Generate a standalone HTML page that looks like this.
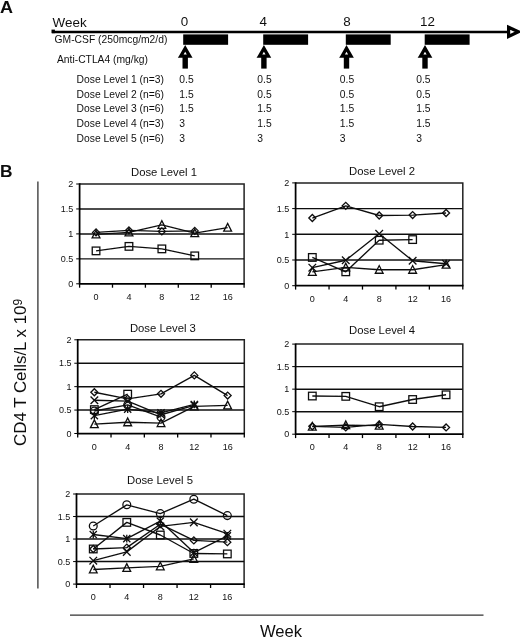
<!DOCTYPE html>
<html><head><meta charset="utf-8"><title>Figure</title>
<style>
html,body{margin:0;padding:0;background:#fff;}
body{width:520px;height:638px;overflow:hidden;font-family:"Liberation Sans", sans-serif;}
svg{display:block;font-family:"Liberation Sans", sans-serif;}
svg text{font-family:"Liberation Sans", sans-serif;fill:#111;}
</style></head><body>
<svg width="520" height="638" viewBox="0 0 520 638" style="will-change:transform">
<rect width="520" height="638" fill="#fff"/>
<defs><filter id="sb" x="0" y="0" width="520" height="638" filterUnits="userSpaceOnUse"><feGaussianBlur stdDeviation="0.35"/></filter></defs>
<g id="panelA" filter="url(#sb)">
<text transform="translate(0 13.2) scale(1.1 1)" font-size="16.4" font-weight="bold" fill="#000">A</text>
<text x="52.6" y="26.6" font-size="13.4">Week</text>
<text x="184.6" y="25.9" font-size="13.4" text-anchor="middle">0</text>
<text x="263.3" y="25.9" font-size="13.4" text-anchor="middle">4</text>
<text x="347.1" y="25.9" font-size="13.4" text-anchor="middle">8</text>
<text x="427.5" y="25.9" font-size="13.4" text-anchor="middle">12</text>
<path d="M52 32H509" stroke="#000" stroke-width="2.6"/>
<rect x="51.5" y="29.6" width="3.4" height="3.6" fill="#000"/>
<path d="M508.6 27.2L518.4 31.8L508.6 36.4Z" fill="#fff" stroke="#000" stroke-width="3.2" stroke-linejoin="miter"/>
<rect x="183.2" y="34.4" width="44.9" height="10.4" fill="#000"/>
<path d="M180.70 56.2L185.20 48.4L189.70 56.2Z" fill="#fff" stroke="#000" stroke-width="3.3" stroke-linejoin="miter"/>
<rect x="182.50" y="57" width="5.4" height="11.6" fill="#000"/>
<rect x="263.2" y="34.4" width="44.9" height="10.4" fill="#000"/>
<path d="M259.40 56.2L263.90 48.4L268.40 56.2Z" fill="#fff" stroke="#000" stroke-width="3.3" stroke-linejoin="miter"/>
<rect x="261.20" y="57" width="5.4" height="11.6" fill="#000"/>
<rect x="345.8" y="34.4" width="44.9" height="10.4" fill="#000"/>
<path d="M342.00 56.2L346.50 48.4L351.00 56.2Z" fill="#fff" stroke="#000" stroke-width="3.3" stroke-linejoin="miter"/>
<rect x="343.80" y="57" width="5.4" height="11.6" fill="#000"/>
<rect x="424.7" y="34.4" width="44.9" height="10.4" fill="#000"/>
<path d="M420.50 56.2L425.00 48.4L429.50 56.2Z" fill="#fff" stroke="#000" stroke-width="3.3" stroke-linejoin="miter"/>
<rect x="422.30" y="57" width="5.4" height="11.6" fill="#000"/>
<text x="54.6" y="43.4" font-size="10.3">GM-CSF (250mcg/m2/d)</text>
<text x="57" y="63.2" font-size="10.3">Anti-CTLA4 (mg/kg)</text>
<text x="76.6" y="83.00" font-size="10.3">Dose Level 1 (n=3)</text>
<text x="179.3" y="83.00" font-size="10.3">0.5</text>
<text x="257.3" y="83.00" font-size="10.3">0.5</text>
<text x="339.8" y="83.00" font-size="10.3">0.5</text>
<text x="416.2" y="83.00" font-size="10.3">0.5</text>
<text x="76.6" y="97.65" font-size="10.3">Dose Level 2 (n=6)</text>
<text x="179.3" y="97.65" font-size="10.3">1.5</text>
<text x="257.3" y="97.65" font-size="10.3">0.5</text>
<text x="339.8" y="97.65" font-size="10.3">0.5</text>
<text x="416.2" y="97.65" font-size="10.3">0.5</text>
<text x="76.6" y="112.30" font-size="10.3">Dose Level 3 (n=6)</text>
<text x="179.3" y="112.30" font-size="10.3">1.5</text>
<text x="257.3" y="112.30" font-size="10.3">1.5</text>
<text x="339.8" y="112.30" font-size="10.3">1.5</text>
<text x="416.2" y="112.30" font-size="10.3">1.5</text>
<text x="76.6" y="126.95" font-size="10.3">Dose Level 4 (n=3)</text>
<text x="179.3" y="126.95" font-size="10.3">3</text>
<text x="257.3" y="126.95" font-size="10.3">1.5</text>
<text x="339.8" y="126.95" font-size="10.3">1.5</text>
<text x="416.2" y="126.95" font-size="10.3">1.5</text>
<text x="76.6" y="141.60" font-size="10.3">Dose Level 5 (n=6)</text>
<text x="179.3" y="141.60" font-size="10.3">3</text>
<text x="257.3" y="141.60" font-size="10.3">3</text>
<text x="339.8" y="141.60" font-size="10.3">3</text>
<text x="416.2" y="141.60" font-size="10.3">3</text>
</g>
<g id="panelB" filter="url(#sb)">
<text transform="translate(0 177) scale(1.06 1)" font-size="16.4" font-weight="bold" fill="#000">B</text>
<path d="M37.9 181.5V588.5" stroke="#333" stroke-width="1.3"/>
<path d="M70 615.2H483.5" stroke="#333" stroke-width="1.3"/>
<text transform="translate(25.5 446) rotate(-90)" font-size="16.9">CD4 T Cells/L x 10<tspan font-size="12" dy="-3.9">9</tspan></text>
<text x="281" y="637.3" font-size="16.6" text-anchor="middle">Week</text>
<path d="M79.6 184.0H244.1V283.8" fill="none" stroke="#222" stroke-width="1.5"/>
<path d="M79.6 258.85H244.1" stroke="#111" stroke-width="1.45"/>
<path d="M79.6 233.90H244.1" stroke="#111" stroke-width="1.45"/>
<path d="M79.6 208.95H244.1" stroke="#111" stroke-width="1.45"/>
<path d="M79.6 183.3V283.8M78.8 283.8H244.79999999999998" fill="none" stroke="#000" stroke-width="1.75"/>
<path d="M76.19999999999999 283.80H79.6" stroke="#000" stroke-width="1.0"/>
<text x="73.30" y="287.05" text-anchor="end" font-size="9">0</text>
<path d="M76.19999999999999 258.85H79.6" stroke="#000" stroke-width="1.0"/>
<text x="73.30" y="262.10" text-anchor="end" font-size="9">0.5</text>
<path d="M76.19999999999999 233.90H79.6" stroke="#000" stroke-width="1.0"/>
<text x="73.30" y="237.15" text-anchor="end" font-size="9">1</text>
<path d="M76.19999999999999 208.95H79.6" stroke="#000" stroke-width="1.0"/>
<text x="73.30" y="212.20" text-anchor="end" font-size="9">1.5</text>
<path d="M76.19999999999999 184.00H79.6" stroke="#000" stroke-width="1.0"/>
<text x="73.30" y="187.25" text-anchor="end" font-size="9">2</text>
<path d="M79.60 283.8V287.7" stroke="#000" stroke-width="1.3"/>
<path d="M112.50 283.8V287.7" stroke="#000" stroke-width="1.3"/>
<path d="M145.40 283.8V287.7" stroke="#000" stroke-width="1.3"/>
<path d="M178.30 283.8V287.7" stroke="#000" stroke-width="1.3"/>
<path d="M211.20 283.8V287.7" stroke="#000" stroke-width="1.3"/>
<path d="M244.10 283.8V287.7" stroke="#000" stroke-width="1.3"/>
<text x="96.05" y="299.80" text-anchor="middle" font-size="9">0</text>
<text x="128.95" y="299.80" text-anchor="middle" font-size="9">4</text>
<text x="161.85" y="299.80" text-anchor="middle" font-size="9">8</text>
<text x="194.75" y="299.80" text-anchor="middle" font-size="9">12</text>
<text x="227.65" y="299.80" text-anchor="middle" font-size="9">16</text>
<text x="164.00" y="175.60" text-anchor="middle" font-size="11.3">Dose Level 1</text>
<path d="M96.05 234.40L128.95 232.40L161.85 224.92L194.75 233.15L227.65 227.66" fill="none" stroke="#111" stroke-width="1.35" stroke-linejoin="round"/>
<path d="M92.15 237.90L96.05 230.20L99.95 237.90Z" fill="none" stroke="#111" stroke-width="1.3" stroke-linejoin="miter"/>
<path d="M125.05 235.90L128.95 228.20L132.85 235.90Z" fill="none" stroke="#111" stroke-width="1.3" stroke-linejoin="miter"/>
<path d="M157.95 228.42L161.85 220.72L165.75 228.42Z" fill="none" stroke="#111" stroke-width="1.3" stroke-linejoin="miter"/>
<path d="M190.85 236.65L194.75 228.95L198.65 236.65Z" fill="none" stroke="#111" stroke-width="1.3" stroke-linejoin="miter"/>
<path d="M223.75 231.16L227.65 223.46L231.55 231.16Z" fill="none" stroke="#111" stroke-width="1.3" stroke-linejoin="miter"/>
<path d="M96.05 232.40L128.95 230.41L161.85 231.41L194.75 230.91" fill="none" stroke="#111" stroke-width="1.35" stroke-linejoin="round"/>
<path d="M92.55 232.4L96.05 228.90L99.55 232.4L96.05 235.90Z" fill="none" stroke="#111" stroke-width="1.3"/>
<path d="M125.45 230.41L128.95 226.91L132.45 230.41L128.95 233.91Z" fill="none" stroke="#111" stroke-width="1.3"/>
<path d="M158.35 231.41L161.85 227.91L165.35 231.41L161.85 234.91Z" fill="none" stroke="#111" stroke-width="1.3"/>
<path d="M191.25 230.91L194.75 227.41L198.25 230.91L194.75 234.41Z" fill="none" stroke="#111" stroke-width="1.3"/>
<path d="M96.05 250.87L128.95 246.38L161.85 248.87L194.75 255.86" fill="none" stroke="#111" stroke-width="1.35" stroke-linejoin="round"/>
<rect x="92.25" y="247.07" width="7.60" height="7.60" fill="none" stroke="#111" stroke-width="1.3"/>
<rect x="125.15" y="242.58" width="7.60" height="7.60" fill="none" stroke="#111" stroke-width="1.3"/>
<rect x="158.05" y="245.07" width="7.60" height="7.60" fill="none" stroke="#111" stroke-width="1.3"/>
<rect x="190.95" y="252.06" width="7.60" height="7.60" fill="none" stroke="#111" stroke-width="1.3"/>
<path d="M295.6 182.9H462.8V285.7" fill="none" stroke="#222" stroke-width="1.5"/>
<path d="M295.6 260.00H462.8" stroke="#111" stroke-width="1.45"/>
<path d="M295.6 234.30H462.8" stroke="#111" stroke-width="1.45"/>
<path d="M295.6 208.60H462.8" stroke="#111" stroke-width="1.45"/>
<path d="M295.6 182.20000000000002V285.7M294.8 285.7H463.5" fill="none" stroke="#000" stroke-width="1.75"/>
<path d="M292.20000000000005 285.70H295.6" stroke="#000" stroke-width="1.0"/>
<text x="289.30" y="288.95" text-anchor="end" font-size="9">0</text>
<path d="M292.20000000000005 260.00H295.6" stroke="#000" stroke-width="1.0"/>
<text x="289.30" y="263.25" text-anchor="end" font-size="9">0.5</text>
<path d="M292.20000000000005 234.30H295.6" stroke="#000" stroke-width="1.0"/>
<text x="289.30" y="237.55" text-anchor="end" font-size="9">1</text>
<path d="M292.20000000000005 208.60H295.6" stroke="#000" stroke-width="1.0"/>
<text x="289.30" y="211.85" text-anchor="end" font-size="9">1.5</text>
<path d="M292.20000000000005 182.90H295.6" stroke="#000" stroke-width="1.0"/>
<text x="289.30" y="186.15" text-anchor="end" font-size="9">2</text>
<path d="M295.60 285.7V289.59999999999997" stroke="#000" stroke-width="1.3"/>
<path d="M329.04 285.7V289.59999999999997" stroke="#000" stroke-width="1.3"/>
<path d="M362.48 285.7V289.59999999999997" stroke="#000" stroke-width="1.3"/>
<path d="M395.92 285.7V289.59999999999997" stroke="#000" stroke-width="1.3"/>
<path d="M429.36 285.7V289.59999999999997" stroke="#000" stroke-width="1.3"/>
<path d="M462.80 285.7V289.59999999999997" stroke="#000" stroke-width="1.3"/>
<text x="312.32" y="301.70" text-anchor="middle" font-size="9">0</text>
<text x="345.76" y="301.70" text-anchor="middle" font-size="9">4</text>
<text x="379.20" y="301.70" text-anchor="middle" font-size="9">8</text>
<text x="412.64" y="301.70" text-anchor="middle" font-size="9">12</text>
<text x="446.08" y="301.70" text-anchor="middle" font-size="9">16</text>
<text x="382.10" y="174.90" text-anchor="middle" font-size="11.3">Dose Level 2</text>
<path d="M312.32 218.01L345.76 205.82L379.20 215.49L412.64 215.08L446.08 212.97" fill="none" stroke="#111" stroke-width="1.35" stroke-linejoin="round"/>
<path d="M308.82 218.01L312.32 214.51L315.82 218.01L312.32 221.51Z" fill="none" stroke="#111" stroke-width="1.3"/>
<path d="M342.26 205.82L345.76 202.32L349.26 205.82L345.76 209.32Z" fill="none" stroke="#111" stroke-width="1.3"/>
<path d="M375.70 215.49L379.2 211.99L382.70 215.49L379.2 218.99Z" fill="none" stroke="#111" stroke-width="1.3"/>
<path d="M409.14 215.08L412.64 211.58L416.14 215.08L412.64 218.58Z" fill="none" stroke="#111" stroke-width="1.3"/>
<path d="M442.58 212.97L446.08 209.47L449.58 212.97L446.08 216.47Z" fill="none" stroke="#111" stroke-width="1.3"/>
<path d="M312.32 257.43L345.76 271.82L379.20 240.21L412.64 239.59" fill="none" stroke="#111" stroke-width="1.35" stroke-linejoin="round"/>
<rect x="308.52" y="253.63" width="7.60" height="7.60" fill="none" stroke="#111" stroke-width="1.3"/>
<rect x="341.96" y="268.02" width="7.60" height="7.60" fill="none" stroke="#111" stroke-width="1.3"/>
<rect x="375.40" y="236.41" width="7.60" height="7.60" fill="none" stroke="#111" stroke-width="1.3"/>
<rect x="408.84" y="235.79" width="7.60" height="7.60" fill="none" stroke="#111" stroke-width="1.3"/>
<path d="M312.32 267.71L345.76 260.26L379.20 233.79L412.64 260.77L446.08 263.75" fill="none" stroke="#111" stroke-width="1.35" stroke-linejoin="round"/>
<path d="M308.52 263.91L316.12 271.51M308.52 271.51L316.12 263.91" fill="none" stroke="#111" stroke-width="1.3"/>
<path d="M341.96 256.46L349.56 264.06M341.96 264.06L349.56 256.46" fill="none" stroke="#111" stroke-width="1.3"/>
<path d="M375.40 229.99L383.00 237.59M375.40 237.59L383.00 229.99" fill="none" stroke="#111" stroke-width="1.3"/>
<path d="M408.84 256.97L416.44 264.57M408.84 264.57L416.44 256.97" fill="none" stroke="#111" stroke-width="1.3"/>
<path d="M442.28 259.95L449.88 267.55M442.28 267.55L449.88 259.95" fill="none" stroke="#111" stroke-width="1.3"/>
<path d="M312.32 271.82L345.76 267.45L379.20 269.77L412.64 269.77L446.08 264.63" fill="none" stroke="#111" stroke-width="1.35" stroke-linejoin="round"/>
<path d="M308.42 275.32L312.32 267.62L316.22 275.32Z" fill="none" stroke="#111" stroke-width="1.3" stroke-linejoin="miter"/>
<path d="M341.86 270.95L345.76 263.25L349.66 270.95Z" fill="none" stroke="#111" stroke-width="1.3" stroke-linejoin="miter"/>
<path d="M375.30 273.27L379.2 265.57L383.10 273.27Z" fill="none" stroke="#111" stroke-width="1.3" stroke-linejoin="miter"/>
<path d="M408.74 273.27L412.64 265.57L416.54 273.27Z" fill="none" stroke="#111" stroke-width="1.3" stroke-linejoin="miter"/>
<path d="M442.18 268.13L446.08 260.43L449.98 268.13Z" fill="none" stroke="#111" stroke-width="1.3" stroke-linejoin="miter"/>
<path d="M77.7 339.8H244.3V433.5" fill="none" stroke="#222" stroke-width="1.5"/>
<path d="M77.7 410.07H244.3" stroke="#111" stroke-width="1.45"/>
<path d="M77.7 386.65H244.3" stroke="#111" stroke-width="1.45"/>
<path d="M77.7 363.23H244.3" stroke="#111" stroke-width="1.45"/>
<path d="M77.7 339.1V433.5M76.9 433.5H245.0" fill="none" stroke="#000" stroke-width="1.75"/>
<path d="M74.3 433.50H77.7" stroke="#000" stroke-width="1.0"/>
<text x="71.40" y="436.75" text-anchor="end" font-size="9">0</text>
<path d="M74.3 410.07H77.7" stroke="#000" stroke-width="1.0"/>
<text x="71.40" y="413.32" text-anchor="end" font-size="9">0.5</text>
<path d="M74.3 386.65H77.7" stroke="#000" stroke-width="1.0"/>
<text x="71.40" y="389.90" text-anchor="end" font-size="9">1</text>
<path d="M74.3 363.23H77.7" stroke="#000" stroke-width="1.0"/>
<text x="71.40" y="366.48" text-anchor="end" font-size="9">1.5</text>
<path d="M74.3 339.80H77.7" stroke="#000" stroke-width="1.0"/>
<text x="71.40" y="343.05" text-anchor="end" font-size="9">2</text>
<path d="M77.70 433.5V437.4" stroke="#000" stroke-width="1.3"/>
<path d="M111.02 433.5V437.4" stroke="#000" stroke-width="1.3"/>
<path d="M144.34 433.5V437.4" stroke="#000" stroke-width="1.3"/>
<path d="M177.66 433.5V437.4" stroke="#000" stroke-width="1.3"/>
<path d="M210.98 433.5V437.4" stroke="#000" stroke-width="1.3"/>
<path d="M244.30 433.5V437.4" stroke="#000" stroke-width="1.3"/>
<text x="94.36" y="449.50" text-anchor="middle" font-size="9">0</text>
<text x="127.68" y="449.50" text-anchor="middle" font-size="9">4</text>
<text x="161.00" y="449.50" text-anchor="middle" font-size="9">8</text>
<text x="194.32" y="449.50" text-anchor="middle" font-size="9">12</text>
<text x="227.64" y="449.50" text-anchor="middle" font-size="9">16</text>
<text x="162.90" y="332.00" text-anchor="middle" font-size="11.3">Dose Level 3</text>
<path d="M94.36 392.27L127.68 398.83L161.00 393.82L194.32 375.41L227.64 395.55" fill="none" stroke="#111" stroke-width="1.35" stroke-linejoin="round"/>
<path d="M90.86 392.27L94.36 388.77L97.86 392.27L94.36 395.77Z" fill="none" stroke="#111" stroke-width="1.3"/>
<path d="M124.18 398.83L127.68 395.33L131.18 398.83L127.68 402.33Z" fill="none" stroke="#111" stroke-width="1.3"/>
<path d="M157.50 393.82L161.0 390.32L164.50 393.82L161.0 397.32Z" fill="none" stroke="#111" stroke-width="1.3"/>
<path d="M190.82 375.41L194.32 371.91L197.82 375.41L194.32 378.91Z" fill="none" stroke="#111" stroke-width="1.3"/>
<path d="M224.14 395.55L227.64 392.05L231.14 395.55L227.64 399.05Z" fill="none" stroke="#111" stroke-width="1.3"/>
<path d="M94.36 409.61L127.68 394.15" fill="none" stroke="#111" stroke-width="1.35" stroke-linejoin="round"/>
<rect x="90.56" y="405.81" width="7.60" height="7.60" fill="none" stroke="#111" stroke-width="1.3"/>
<rect x="123.88" y="390.35" width="7.60" height="7.60" fill="none" stroke="#111" stroke-width="1.3"/>
<path d="M94.36 400.24L127.68 401.17L161.00 414.76L194.32 405.39" fill="none" stroke="#111" stroke-width="1.35" stroke-linejoin="round"/>
<path d="M90.56 396.44L98.16 404.04M90.56 404.04L98.16 396.44" fill="none" stroke="#111" stroke-width="1.3"/>
<path d="M123.88 397.37L131.48 404.97M123.88 404.97L131.48 397.37" fill="none" stroke="#111" stroke-width="1.3"/>
<path d="M157.20 410.96L164.80 418.56M157.20 418.56L164.80 410.96" fill="none" stroke="#111" stroke-width="1.3"/>
<path d="M190.52 401.59L198.12 409.19M190.52 409.19L198.12 401.59" fill="none" stroke="#111" stroke-width="1.3"/>
<path d="M94.36 411.01L127.68 404.92L161.00 417.10" fill="none" stroke="#111" stroke-width="1.35" stroke-linejoin="round"/>
<circle cx="94.36" cy="411.01" r="3.9" fill="none" stroke="#111" stroke-width="1.3"/>
<circle cx="127.68" cy="404.92" r="3.9" fill="none" stroke="#111" stroke-width="1.3"/>
<circle cx="161.0" cy="417.1" r="3.9" fill="none" stroke="#111" stroke-width="1.3"/>
<path d="M94.36 415.70L127.68 409.14L161.00 412.89L194.32 404.45" fill="none" stroke="#111" stroke-width="1.35" stroke-linejoin="round"/>
<path d="M90.76 412.10L97.96 419.30M90.76 419.30L97.96 412.10M94.36 411.80L94.36 419.60" fill="none" stroke="#111" stroke-width="1.3"/>
<path d="M124.08 405.54L131.28 412.74M124.08 412.74L131.28 405.54M127.68 405.24L127.68 413.04" fill="none" stroke="#111" stroke-width="1.3"/>
<path d="M157.40 409.29L164.60 416.49M157.40 416.49L164.60 409.29M161.0 408.99L161.0 416.79" fill="none" stroke="#111" stroke-width="1.3"/>
<path d="M190.72 400.85L197.92 408.05M190.72 408.05L197.92 400.85M194.32 400.55L194.32 408.35" fill="none" stroke="#111" stroke-width="1.3"/>
<path d="M94.36 424.13L127.68 422.26L161.00 423.19L194.32 406.33L227.64 405.39" fill="none" stroke="#111" stroke-width="1.35" stroke-linejoin="round"/>
<path d="M90.46 427.63L94.36 419.93L98.26 427.63Z" fill="none" stroke="#111" stroke-width="1.3" stroke-linejoin="miter"/>
<path d="M123.78 425.76L127.68 418.06L131.58 425.76Z" fill="none" stroke="#111" stroke-width="1.3" stroke-linejoin="miter"/>
<path d="M157.10 426.69L161.0 418.99L164.90 426.69Z" fill="none" stroke="#111" stroke-width="1.3" stroke-linejoin="miter"/>
<path d="M190.42 409.83L194.32 402.13L198.22 409.83Z" fill="none" stroke="#111" stroke-width="1.3" stroke-linejoin="miter"/>
<path d="M223.74 408.89L227.64 401.19L231.54 408.89Z" fill="none" stroke="#111" stroke-width="1.3" stroke-linejoin="miter"/>
<path d="M295.6 344.1H462.8V434.2" fill="none" stroke="#222" stroke-width="1.5"/>
<path d="M295.6 411.68H462.8" stroke="#111" stroke-width="1.45"/>
<path d="M295.6 389.15H462.8" stroke="#111" stroke-width="1.45"/>
<path d="M295.6 366.62H462.8" stroke="#111" stroke-width="1.45"/>
<path d="M295.6 343.40000000000003V434.2M294.8 434.2H463.5" fill="none" stroke="#000" stroke-width="1.75"/>
<path d="M292.20000000000005 434.20H295.6" stroke="#000" stroke-width="1.0"/>
<text x="289.30" y="437.45" text-anchor="end" font-size="9">0</text>
<path d="M292.20000000000005 411.68H295.6" stroke="#000" stroke-width="1.0"/>
<text x="289.30" y="414.93" text-anchor="end" font-size="9">0.5</text>
<path d="M292.20000000000005 389.15H295.6" stroke="#000" stroke-width="1.0"/>
<text x="289.30" y="392.40" text-anchor="end" font-size="9">1</text>
<path d="M292.20000000000005 366.62H295.6" stroke="#000" stroke-width="1.0"/>
<text x="289.30" y="369.88" text-anchor="end" font-size="9">1.5</text>
<path d="M292.20000000000005 344.10H295.6" stroke="#000" stroke-width="1.0"/>
<text x="289.30" y="347.35" text-anchor="end" font-size="9">2</text>
<path d="M295.60 434.2V438.09999999999997" stroke="#000" stroke-width="1.3"/>
<path d="M329.04 434.2V438.09999999999997" stroke="#000" stroke-width="1.3"/>
<path d="M362.48 434.2V438.09999999999997" stroke="#000" stroke-width="1.3"/>
<path d="M395.92 434.2V438.09999999999997" stroke="#000" stroke-width="1.3"/>
<path d="M429.36 434.2V438.09999999999997" stroke="#000" stroke-width="1.3"/>
<path d="M462.80 434.2V438.09999999999997" stroke="#000" stroke-width="1.3"/>
<text x="312.32" y="450.20" text-anchor="middle" font-size="9">0</text>
<text x="345.76" y="450.20" text-anchor="middle" font-size="9">4</text>
<text x="379.20" y="450.20" text-anchor="middle" font-size="9">8</text>
<text x="412.64" y="450.20" text-anchor="middle" font-size="9">12</text>
<text x="446.08" y="450.20" text-anchor="middle" font-size="9">16</text>
<text x="382.10" y="333.90" text-anchor="middle" font-size="11.3">Dose Level 4</text>
<path d="M312.32 396.04L345.76 396.36L379.20 406.72L412.64 399.51L446.08 394.78" fill="none" stroke="#111" stroke-width="1.35" stroke-linejoin="round"/>
<rect x="308.52" y="392.24" width="7.60" height="7.60" fill="none" stroke="#111" stroke-width="1.3"/>
<rect x="341.96" y="392.56" width="7.60" height="7.60" fill="none" stroke="#111" stroke-width="1.3"/>
<rect x="375.40" y="402.92" width="7.60" height="7.60" fill="none" stroke="#111" stroke-width="1.3"/>
<rect x="408.84" y="395.71" width="7.60" height="7.60" fill="none" stroke="#111" stroke-width="1.3"/>
<rect x="442.28" y="390.98" width="7.60" height="7.60" fill="none" stroke="#111" stroke-width="1.3"/>
<path d="M312.32 426.32L345.76 427.44L379.20 424.38L412.64 426.54L446.08 427.44" fill="none" stroke="#111" stroke-width="1.35" stroke-linejoin="round"/>
<path d="M308.82 426.32L312.32 422.82L315.82 426.32L312.32 429.82Z" fill="none" stroke="#111" stroke-width="1.3"/>
<path d="M342.26 427.44L345.76 423.94L349.26 427.44L345.76 430.94Z" fill="none" stroke="#111" stroke-width="1.3"/>
<path d="M375.70 424.38L379.2 420.88L382.70 424.38L379.2 427.88Z" fill="none" stroke="#111" stroke-width="1.3"/>
<path d="M409.14 426.54L412.64 423.04L416.14 426.54L412.64 430.04Z" fill="none" stroke="#111" stroke-width="1.3"/>
<path d="M442.58 427.44L446.08 423.94L449.58 427.44L446.08 430.94Z" fill="none" stroke="#111" stroke-width="1.3"/>
<path d="M312.32 426.54L345.76 425.19L379.20 425.64" fill="none" stroke="#111" stroke-width="1.35" stroke-linejoin="round"/>
<path d="M308.42 430.04L312.32 422.34L316.22 430.04Z" fill="none" stroke="#111" stroke-width="1.3" stroke-linejoin="miter"/>
<path d="M341.86 428.69L345.76 420.99L349.66 428.69Z" fill="none" stroke="#111" stroke-width="1.3" stroke-linejoin="miter"/>
<path d="M375.30 429.14L379.2 421.44L383.10 429.14Z" fill="none" stroke="#111" stroke-width="1.3" stroke-linejoin="miter"/>
<path d="M76.5 494.0H244.1V584.1" fill="none" stroke="#222" stroke-width="1.5"/>
<path d="M76.5 561.58H244.1" stroke="#111" stroke-width="1.45"/>
<path d="M76.5 539.05H244.1" stroke="#111" stroke-width="1.45"/>
<path d="M76.5 516.52H244.1" stroke="#111" stroke-width="1.45"/>
<path d="M76.5 493.3V584.1M75.7 584.1H244.79999999999998" fill="none" stroke="#000" stroke-width="1.75"/>
<path d="M73.1 584.10H76.5" stroke="#000" stroke-width="1.0"/>
<text x="70.20" y="587.35" text-anchor="end" font-size="9">0</text>
<path d="M73.1 561.58H76.5" stroke="#000" stroke-width="1.0"/>
<text x="70.20" y="564.83" text-anchor="end" font-size="9">0.5</text>
<path d="M73.1 539.05H76.5" stroke="#000" stroke-width="1.0"/>
<text x="70.20" y="542.30" text-anchor="end" font-size="9">1</text>
<path d="M73.1 516.52H76.5" stroke="#000" stroke-width="1.0"/>
<text x="70.20" y="519.77" text-anchor="end" font-size="9">1.5</text>
<path d="M73.1 494.00H76.5" stroke="#000" stroke-width="1.0"/>
<text x="70.20" y="497.25" text-anchor="end" font-size="9">2</text>
<path d="M76.50 584.1V588.0" stroke="#000" stroke-width="1.3"/>
<path d="M110.02 584.1V588.0" stroke="#000" stroke-width="1.3"/>
<path d="M143.54 584.1V588.0" stroke="#000" stroke-width="1.3"/>
<path d="M177.06 584.1V588.0" stroke="#000" stroke-width="1.3"/>
<path d="M210.58 584.1V588.0" stroke="#000" stroke-width="1.3"/>
<path d="M244.10 584.1V588.0" stroke="#000" stroke-width="1.3"/>
<text x="93.26" y="600.10" text-anchor="middle" font-size="9">0</text>
<text x="126.78" y="600.10" text-anchor="middle" font-size="9">4</text>
<text x="160.30" y="600.10" text-anchor="middle" font-size="9">8</text>
<text x="193.82" y="600.10" text-anchor="middle" font-size="9">12</text>
<text x="227.34" y="600.10" text-anchor="middle" font-size="9">16</text>
<text x="160.00" y="483.50" text-anchor="middle" font-size="11.3">Dose Level 5</text>
<path d="M93.26 525.99L126.78 504.81L160.30 513.60L193.82 499.18L227.34 515.62" fill="none" stroke="#111" stroke-width="1.35" stroke-linejoin="round"/>
<circle cx="93.26" cy="525.99" r="3.9" fill="none" stroke="#111" stroke-width="1.3"/>
<circle cx="126.78" cy="504.81" r="3.9" fill="none" stroke="#111" stroke-width="1.3"/>
<circle cx="160.3" cy="513.6" r="3.9" fill="none" stroke="#111" stroke-width="1.3"/>
<circle cx="193.82" cy="499.18" r="3.9" fill="none" stroke="#111" stroke-width="1.3"/>
<circle cx="227.34" cy="515.62" r="3.9" fill="none" stroke="#111" stroke-width="1.3"/>
<path d="M93.26 548.96L126.78 522.38L160.30 535.00L193.82 553.47L227.34 553.92" fill="none" stroke="#111" stroke-width="1.35" stroke-linejoin="round"/>
<rect x="89.46" y="545.16" width="7.60" height="7.60" fill="none" stroke="#111" stroke-width="1.3"/>
<rect x="122.98" y="518.58" width="7.60" height="7.60" fill="none" stroke="#111" stroke-width="1.3"/>
<rect x="156.50" y="531.20" width="7.60" height="7.60" fill="none" stroke="#111" stroke-width="1.3"/>
<rect x="190.02" y="549.67" width="7.60" height="7.60" fill="none" stroke="#111" stroke-width="1.3"/>
<rect x="223.54" y="550.12" width="7.60" height="7.60" fill="none" stroke="#111" stroke-width="1.3"/>
<path d="M93.26 560.67L126.78 551.89L160.30 526.44L193.82 522.38L227.34 533.64" fill="none" stroke="#111" stroke-width="1.35" stroke-linejoin="round"/>
<path d="M89.46 556.87L97.06 564.47M89.46 564.47L97.06 556.87" fill="none" stroke="#111" stroke-width="1.3"/>
<path d="M122.98 548.09L130.58 555.69M122.98 555.69L130.58 548.09" fill="none" stroke="#111" stroke-width="1.3"/>
<path d="M156.50 522.64L164.10 530.24M156.50 530.24L164.10 522.64" fill="none" stroke="#111" stroke-width="1.3"/>
<path d="M190.02 518.58L197.62 526.18M190.02 526.18L197.62 518.58" fill="none" stroke="#111" stroke-width="1.3"/>
<path d="M223.54 529.84L231.14 537.44M223.54 537.44L231.14 529.84" fill="none" stroke="#111" stroke-width="1.3"/>
<path d="M93.26 548.96L126.78 547.61L160.30 524.18L193.82 540.40L227.34 542.20" fill="none" stroke="#111" stroke-width="1.35" stroke-linejoin="round"/>
<path d="M89.76 548.96L93.26 545.46L96.76 548.96L93.26 552.46Z" fill="none" stroke="#111" stroke-width="1.3"/>
<path d="M123.28 547.61L126.78 544.11L130.28 547.61L126.78 551.11Z" fill="none" stroke="#111" stroke-width="1.3"/>
<path d="M156.80 524.18L160.3 520.68L163.80 524.18L160.3 527.68Z" fill="none" stroke="#111" stroke-width="1.3"/>
<path d="M190.32 540.4L193.82 536.90L197.32 540.4L193.82 543.90Z" fill="none" stroke="#111" stroke-width="1.3"/>
<path d="M223.84 542.2L227.34 538.70L230.84 542.2L227.34 545.70Z" fill="none" stroke="#111" stroke-width="1.3"/>
<path d="M93.26 534.54L126.78 538.60L160.30 521.03L193.82 552.57L227.34 535.90" fill="none" stroke="#111" stroke-width="1.35" stroke-linejoin="round"/>
<path d="M89.66 530.94L96.86 538.14M89.66 538.14L96.86 530.94M93.26 530.64L93.26 538.44" fill="none" stroke="#111" stroke-width="1.3"/>
<path d="M123.18 535.00L130.38 542.20M123.18 542.20L130.38 535.00M126.78 534.70L126.78 542.50" fill="none" stroke="#111" stroke-width="1.3"/>
<path d="M156.70 517.43L163.90 524.63M156.70 524.63L163.90 517.43M160.3 517.13L160.3 524.93" fill="none" stroke="#111" stroke-width="1.3"/>
<path d="M190.22 548.97L197.42 556.17M190.22 556.17L197.42 548.97M193.82 548.67L193.82 556.47" fill="none" stroke="#111" stroke-width="1.3"/>
<path d="M223.74 532.30L230.94 539.50M223.74 539.50L230.94 532.30M227.34 532.00L227.34 539.80" fill="none" stroke="#111" stroke-width="1.3"/>
<path d="M93.26 569.46L126.78 567.88L160.30 566.31L193.82 558.87" fill="none" stroke="#111" stroke-width="1.35" stroke-linejoin="round"/>
<path d="M89.36 572.96L93.26 565.26L97.16 572.96Z" fill="none" stroke="#111" stroke-width="1.3" stroke-linejoin="miter"/>
<path d="M122.88 571.38L126.78 563.68L130.68 571.38Z" fill="none" stroke="#111" stroke-width="1.3" stroke-linejoin="miter"/>
<path d="M156.40 569.81L160.3 562.11L164.20 569.81Z" fill="none" stroke="#111" stroke-width="1.3" stroke-linejoin="miter"/>
<path d="M189.92 562.37L193.82 554.67L197.72 562.37Z" fill="none" stroke="#111" stroke-width="1.3" stroke-linejoin="miter"/>
</g>
</svg>
</body></html>
